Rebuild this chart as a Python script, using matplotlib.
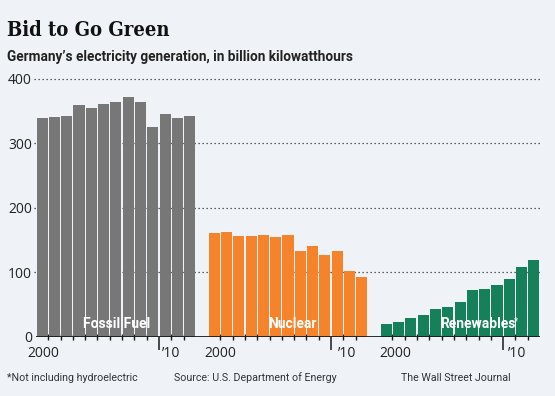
import matplotlib
matplotlib.use("Agg")
import matplotlib.pyplot as plt
import matplotlib.transforms as mtransforms

# ---------------- data ----------------
years = list(range(2000, 2013))
fossil = [338, 341, 342, 359, 354, 361, 363, 371, 363, 325, 345, 339, 342]
nuclear = [160, 162, 156, 156, 158, 154, 158, 133, 140, 127, 132, 102, 93]
renewables = [19, 22, 28, 33, 42, 45, 54, 72, 74, 80, 89, 108, 118]
series_names = ["Fossil Fuel", "Nuclear", "Renewables"]
y_ticks = [0, 100, 200, 300, 400]
year_labels = ["2000", "\u201910"]

title = "Bid to Go Green"
subtitle = "Germany\u2019s electricity generation, in billion kilowatthours"
note = "*Not including hydroelectric"
source = "Source: U.S. Department of Energy"
credit = "The Wall Street Journal"

# ---------------- style ----------------
BG = "#eff2f7"
colors = ["#777777", "#f5832b", "#15805a"]
DIGIT_FONT = ["Open Sans", "DejaVu Sans"]
NARROW = ["Roboto", "DejaVu Sans"]

W, H = 555, 396
fig = plt.figure(figsize=(W / 100, H / 100), dpi=100, facecolor=BG)

x_left, x_right = 36, 540
y_zero, y_top = 336.5, 78.5
ax = fig.add_axes([x_left / W, (H - y_zero) / H, (x_right - x_left) / W, (y_zero - y_top) / H])
ax.set_facecolor("none")
n = len(years)
slot = n + 1
ax.set_xlim(-0.5, 3 * n + 2 - 0.5)
ax.set_ylim(0, 400)
for s in ax.spines.values():
    s.set_visible(False)

# gridlines (dotted), extending slightly left of first bar
xmin_grid = -0.5 - 2 / 12.3
for yv in y_ticks[1:]:
    ax.plot([xmin_grid, 3 * n + 2 - 0.5], [yv, yv], ls=(0, (1, 2.2)), lw=0.9,
            color="#333333", zorder=0, clip_on=False)

groups = [fossil, nuclear, renewables]
for g, (vals, col) in enumerate(zip(groups, colors)):
    xs = [g * slot + i for i in range(n)]
    ax.bar(xs, vals, width=0.9, color=col, zorder=2, linewidth=0)

# baseline
ax.axhline(0, color="#1a1a1a", lw=1.3, zorder=3)

# ticks: short between bars, long at 2009|2010 boundary
minor, major = [], []
for g in range(3):
    for k in range(n - 1):
        pos = g * slot + k + 0.5
        if years[k + 1] == 2010:
            major.append(pos)
        else:
            minor.append(pos)
ax.set_xticks(major)
ax.set_xticks(minor, minor=True)
ax.set_xticklabels([])
ax.tick_params(axis="x", which="major", direction="out", length=9.5, width=1.1, color="#1a1a1a")
ax.tick_params(axis="x", which="minor", direction="inout", length=4.5, width=1.0, color="#1a1a1a")

# y tick labels
ax.set_yticks(y_ticks)
ax.set_yticklabels([str(v) for v in y_ticks], fontfamily=DIGIT_FONT, fontsize=10, color="#222222")
ax.tick_params(axis="y", length=0, pad=3)

# year labels
trans = mtransforms.blended_transform_factory(ax.transData, fig.transFigure)
label_offsets = [(0.07, 10.5), (0.5, 10.8), (0.74, 10.6)]
for g, (o0, o1) in enumerate(label_offsets):
    ax.text(g * slot + o0, (H - 357) / H, year_labels[0], transform=trans, ha="center",
            va="baseline", fontsize=10, fontfamily=DIGIT_FONT, color="#222222")
    ax.text(g * slot + o1, (H - 357) / H, year_labels[1], transform=trans, ha="center",
            va="baseline", fontsize=10, fontfamily=DIGIT_FONT, color="#222222")

# series labels inside bars
lab_font = ["Roboto", "DejaVu Sans"]
ax.text(6.09, 13, series_names[0], ha="center", va="baseline", color="white",
        fontsize=10, fontweight="bold", fontfamily=lab_font, zorder=4)
ax.text(slot + 6.37, 13, series_names[1], ha="center", va="baseline", color="white",
        fontsize=10, fontweight="bold", fontfamily=lab_font, zorder=4)
ax.text(2 * slot + 4.36, 13, series_names[2], ha="left", va="baseline", color="white",
        fontsize=10, fontweight="bold", fontfamily=lab_font, zorder=4)
ax.text(2 * slot + 10.4, 19, "*", ha="left", va="baseline", color="white",
        fontsize=7, fontfamily=lab_font, zorder=4)

# titles
fig.text(7 / W, (H - 36) / H, title, fontsize=14.5, fontweight="bold",
         fontfamily="DejaVu Serif", fontstretch="condensed", color="#111111", va="baseline")
fig.text(7 / W, (H - 60.5) / H, subtitle, fontsize=9.8, fontweight="bold",
         fontfamily=["Roboto", "DejaVu Sans"], color="#222222", va="baseline")

# footer
fig.text(7 / W, (H - 381) / H, note, fontsize=7.7, fontfamily=NARROW, color="#333333", va="baseline")
fig.text(174 / W, (H - 381) / H, source, fontsize=7.7, fontfamily=NARROW, color="#333333", va="baseline")
fig.text(511 / W, (H - 381) / H, credit, fontsize=7.7, fontfamily=NARROW, color="#333333",
         va="baseline", ha="right")

fig.savefig("out.png", dpi=100, facecolor=BG)
